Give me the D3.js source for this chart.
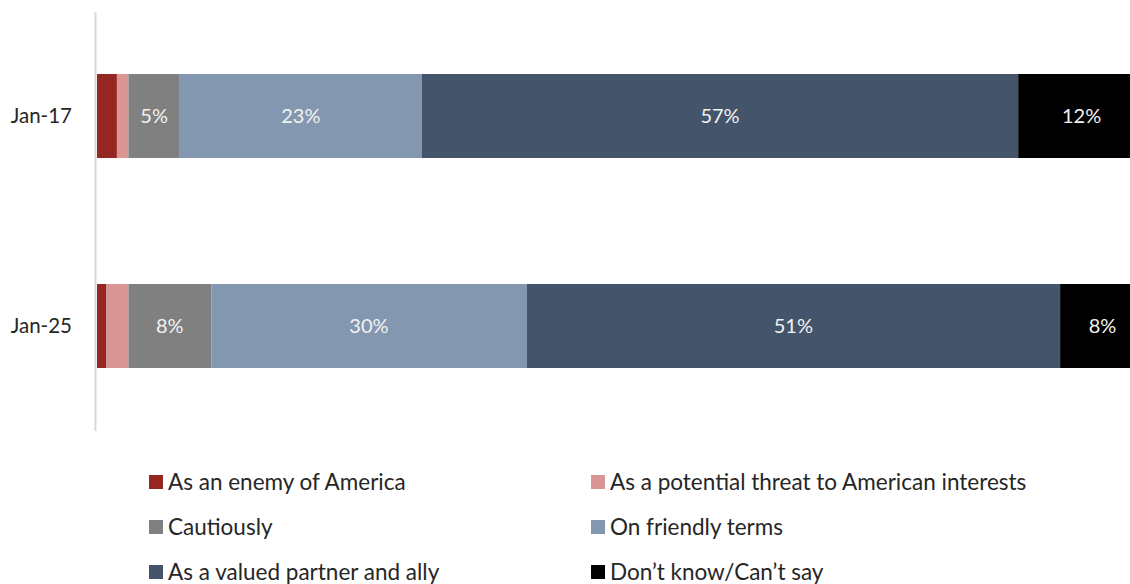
<!DOCTYPE html>
<html>
<head>
<meta charset="utf-8">
<script src="https://cdn.jsdelivr.net/npm/d3@7"></script>
<style>
  body { margin: 0; background: #fff; }
  svg { display: block; font-family: Lato, "Open Sans", sans-serif; }
</style>
</head>
<body>
<div class="chart"></div>
<script>
const periods = ["Jan-17", "Jan-25"];
const seriesNames = [
  "As an enemy of America",
  "As a potential threat to American interests",
  "Cautiously",
  "On friendly terms",
  "As a valued partner and ally",
  "Don\u2019t know/Can\u2019t say"
];
const seriesColors = ["#952622", "#d99694", "#808080", "#8497b0", "#44546a", "#000000"];
// one array per series, in period order
const enemy    = [1.9, 0.9];
const threat   = [1.1, 2.1];
const cautious = [4.9, 7.9];
const friendly = [23.1, 30.1];
const partner  = [56.9, 50.9];
const dontKnow = [12.1, 8.1];
const showLabel = [false, false, true, true, true, true];

const width = 1130, height = 584;

const svg = d3.select(".chart").append("svg")
  .attr("width", width)
  .attr("height", height);

const allSeries = [enemy, threat, cautious, friendly, partner, dontKnow];
const rows = periods.map((p, i) => {
  const r = { period: p };
  seriesNames.forEach((s, j) => r[s] = allSeries[j][i]);
  return r;
});

const stack = d3.stack().keys(seriesNames)(rows);

const x = d3.scaleLinear().domain([0, 100]).range([97, 1145]);
const y = d3.scaleBand().domain(periods).range([11, 431]).paddingInner(0.6).paddingOuter(0.3);

// category axis line
svg.append("line")
  .attr("x1", 95.5).attr("x2", 95.5)
  .attr("y1", 12).attr("y2", 431)
  .attr("stroke", "#d9d9d9")
  .attr("stroke-width", 2);

const groups = svg.selectAll("g.series").data(stack).enter()
  .append("g")
  .attr("class", "series")
  .attr("fill", (d, i) => seriesColors[i]);

groups.selectAll("rect").data(d => d).enter()
  .append("rect")
  .attr("x", d => x(d[0]))
  .attr("y", d => y(d.data.period))
  .attr("width", d => x(d[1]) - x(d[0]))
  .attr("height", y.bandwidth());

groups.each(function(s, i) {
  if (!showLabel[i]) return;
  d3.select(this).selectAll("text").data(s).enter()
    .append("text")
    .attr("x", d => (x(d[0]) + x(d[1])) / 2)
    .attr("y", d => y(d.data.period) + y.bandwidth() / 2)
    .attr("dy", "0.35em")
    .attr("text-anchor", "middle")
    .attr("fill", "#f2f2f2")
    .style("font-size", "20px")
    .text(d => Math.round(d[1] - d[0]) + "%");
});

svg.selectAll("text.cat").data(periods).enter()
  .append("text")
  .attr("class", "cat")
  .attr("x", 72)
  .attr("y", d => y(d) + y.bandwidth() / 2)
  .attr("dy", "0.35em")
  .attr("text-anchor", "end")
  .attr("fill", "#262626")
  .style("font-size", "20.5px")
  .text(d => d);

// legend
const legend = svg.selectAll("g.legend").data(seriesNames).enter()
  .append("g")
  .attr("class", "legend")
  .attr("transform", (d, i) => `translate(${i % 2 === 0 ? 149 : 591}, ${475 + Math.floor(i / 2) * 45})`);

legend.append("rect")
  .attr("width", 14).attr("height", 14)
  .attr("fill", (d, i) => seriesColors[i]);

legend.append("text")
  .attr("x", 19)
  .attr("y", 7)
  .attr("dy", "0.35em")
  .attr("fill", "#262626")
  .style("font-size", "22.5px")
  .text(d => d);
</script>
</body>
</html>
